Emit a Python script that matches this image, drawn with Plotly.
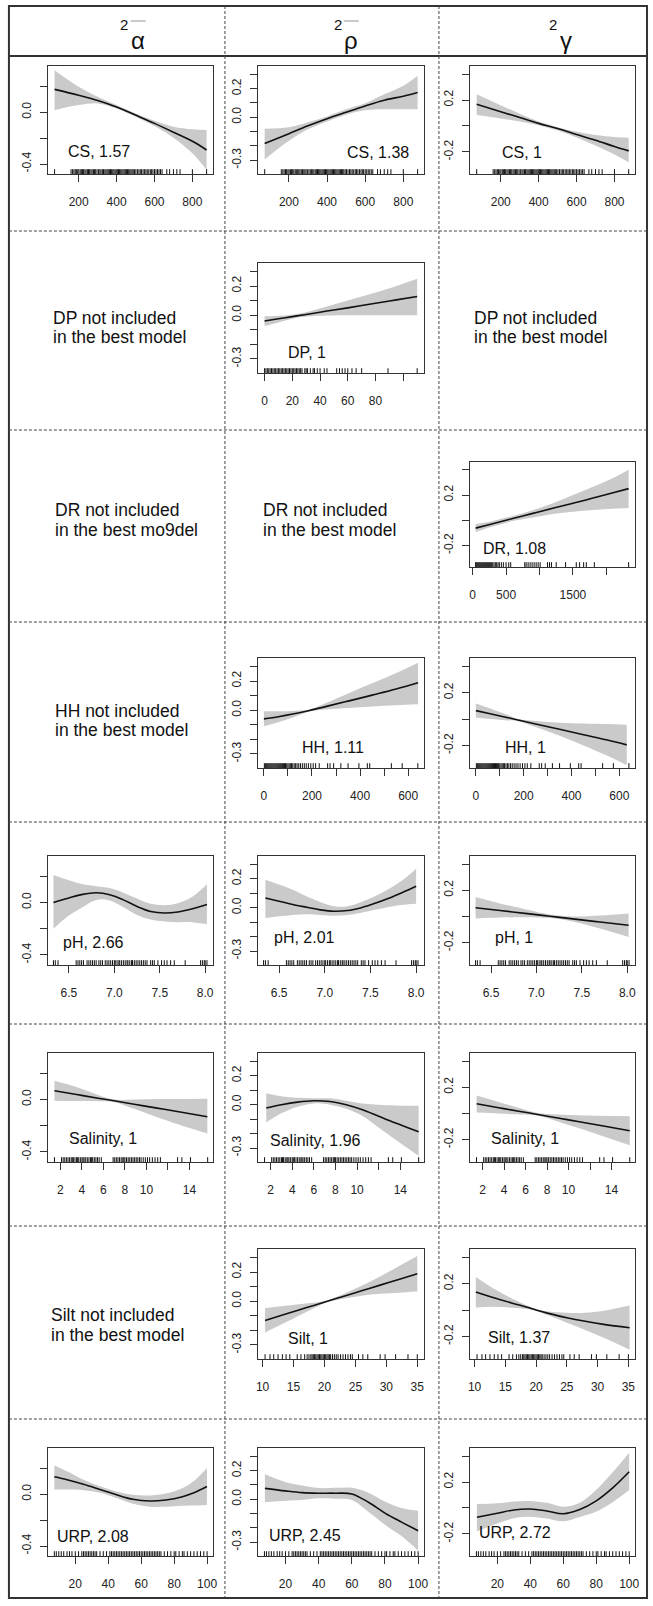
import plotly.graph_objects as go

W, H = 653, 1606
FONT = "Liberation Sans, Arial, sans-serif"

# ---------------- observation values (rug) ----------------
CS_OBS = [73, 160, 168, 175, 182, 188, 195, 201, 208, 214, 220, 226, 233, 239, 246, 252, 258, 265, 271,
          278, 284, 290, 297, 305, 312, 318, 325, 331, 338, 344, 350, 356, 362, 368, 374, 380, 386, 392,
          398, 404, 410, 416, 422, 428, 434, 440, 446, 452, 458, 464, 470, 476, 482, 488, 495, 502, 510,
          518, 525, 532, 540, 548, 555, 562, 570, 578, 585, 592, 600, 608, 616, 624, 632, 640, 665, 680,
          700, 718, 735, 800, 875]
DP_OBS = [0, 1, 2, 3, 4, 5, 6, 7, 8, 9, 10, 11, 12, 13, 14, 15, 16, 17, 18, 19, 20, 21, 22, 23, 24, 25,
          26, 27, 29, 30, 31, 33, 35, 36, 38, 40, 43, 45, 52, 54, 56, 58, 60, 63, 66, 70, 89, 110]
DR_OBS = [45, 55, 70, 85, 100, 115, 130, 145, 160, 175, 190, 205, 220, 235, 250, 265, 280, 300, 320, 340,
          360, 380, 400, 430, 460, 500, 540, 570, 780, 800, 830, 860, 890, 920, 950, 980, 1010, 1120,
          1150, 1180, 1250, 1390, 1550, 1600, 1660, 1700, 1820, 2333]
HH_OBS = [2, 6, 10, 14, 18, 22, 26, 30, 34, 38, 42, 46, 50, 54, 58, 62, 66, 70, 74, 78, 82, 86, 90, 95,
          100, 105, 110, 115, 120, 126, 132, 138, 145, 152, 160, 168, 176, 185, 195, 205, 215, 230, 265,
          275, 290, 320, 350, 395, 430, 440, 530, 575, 640]
PH_OBS = [6.33, 6.35, 6.38, 6.58, 6.6, 6.62, 6.64, 6.66, 6.7, 6.72, 6.74, 6.76, 6.78, 6.8, 6.83, 6.85,
          6.87, 6.9, 6.92, 6.94, 6.96, 6.98, 7.0, 7.01, 7.03, 7.05, 7.06, 7.08, 7.1, 7.12, 7.14, 7.15,
          7.17, 7.19, 7.2, 7.22, 7.24, 7.26, 7.28, 7.3, 7.32, 7.34, 7.36, 7.4, 7.42, 7.44, 7.48, 7.52,
          7.55, 7.58, 7.62, 7.66, 7.78, 7.95, 7.97, 7.99, 8.0, 8.02]
SAL_OBS = [1.44, 2.1, 2.25, 2.4, 2.55, 2.7, 2.85, 3.0, 3.1, 3.2, 3.35, 3.5, 3.6, 3.7, 3.85, 4.0, 4.1, 4.2,
           4.35, 4.5, 4.65, 4.8, 4.9, 5.0, 5.15, 5.3, 5.45, 5.6, 5.8, 6.9, 7.05, 7.2, 7.35, 7.5, 7.65,
           7.8, 7.9, 8.0, 8.15, 8.3, 8.45, 8.6, 8.75, 8.9, 9.05, 9.2, 9.35, 9.5, 9.7, 9.9, 10.1, 10.3,
           10.55, 10.8, 11.05, 11.3, 12.9, 13.3, 14.1, 15.7]
SILT_OBS = [10.4, 11.2, 11.8, 12.5, 13.2, 13.8, 14.4, 15.6, 16.2, 16.8, 17.2, 17.5, 17.8, 18.0, 18.2,
            18.4, 18.6, 18.8, 19.0, 19.2, 19.4, 19.6, 19.8, 20.0, 20.2, 20.4, 20.6, 20.8, 21.0, 21.3,
            21.6, 21.9, 22.2, 22.6, 23.0, 23.4, 23.8, 24.2, 24.5, 25.5, 26.2, 27.0, 29.0, 29.8, 31.5,
            33.5, 35.0]
URP_OBS = [7.3, 8.5, 10, 11.5, 13, 15, 16.5, 18, 20, 22, 24, 25, 26, 27, 28, 29, 30, 31, 32, 33, 35, 37,
           39, 41, 42, 43, 44, 45, 46, 47, 48, 49, 50, 51, 52, 53, 54, 55, 56, 57, 58, 59, 60, 61, 62, 63,
           64, 65, 66, 67, 68, 69, 70, 71, 72, 74, 76, 78, 80, 81, 83, 85, 86, 88, 90, 92, 94, 96, 98, 100]

# ---------------- smooth fits: x, fit, lower, upper ----------------
CS_X = [73, 200, 300, 400, 500, 600, 700, 800, 875]
CS_A_FIT = [0.175, 0.13, 0.09, 0.04, -0.023, -0.087, -0.155, -0.225, -0.292]
CS_A_HI = [0.323, 0.195, 0.118, 0.054, -0.01, -0.067, -0.113, -0.133, -0.138]
CS_A_LO = [0.015, 0.054, 0.067, 0.028, -0.036, -0.108, -0.197, -0.318, -0.446]
CS_R_FIT = [-0.184, -0.115, -0.06, -0.01, 0.035, 0.079, 0.119, 0.147, 0.173]
CS_R_HI = [-0.08, -0.07, -0.035, 0.005, 0.055, 0.097, 0.16, 0.22, 0.29]
CS_R_LO = [-0.295, -0.165, -0.085, -0.03, 0.018, 0.049, 0.055, 0.056, 0.056]
CS_G_FIT = [0.167, 0.11, 0.065, 0.02, -0.02, -0.065, -0.11, -0.158, -0.192]
CS_G_HI = [0.245, 0.16, 0.095, 0.035, -0.01, -0.045, -0.07, -0.085, -0.09]
CS_G_LO = [0.085, 0.058, 0.035, 0.005, -0.035, -0.088, -0.15, -0.22, -0.28]

DP_X = [0, 10, 20, 30, 45, 60, 80, 95, 110]
DP_R_FIT = [-0.04, -0.025, -0.01, 0.005, 0.028, 0.05, 0.082, 0.105, 0.128]
DP_R_HI = [-0.008, -0.004, 0.003, 0.02, 0.06, 0.1, 0.155, 0.2, 0.25]
DP_R_LO = [-0.075, -0.05, -0.024, -0.01, -0.003, -0.001, 0.0, 0.0, 0.0]

DR_X = [45, 300, 600, 900, 1200, 1500, 1800, 2100, 2333]
DR_G_FIT = [-0.062, -0.027, 0.014, 0.055, 0.096, 0.135, 0.176, 0.218, 0.251]
DR_G_HI = [-0.03, -0.005, 0.035, 0.08, 0.135, 0.2, 0.265, 0.335, 0.4]
DR_G_LO = [-0.093, -0.05, -0.006, 0.022, 0.05, 0.068, 0.082, 0.092, 0.097]

HH_R_X = [0, 60, 120, 190, 260, 350, 450, 550, 641]
HH_R_FIT = [-0.06, -0.045, -0.027, -0.002, 0.026, 0.062, 0.103, 0.145, 0.188]
HH_R_HI = [-0.007, -0.007, -0.005, 0.004, 0.05, 0.115, 0.185, 0.255, 0.326]
HH_R_LO = [-0.11, -0.083, -0.05, -0.009, 0.005, 0.015, 0.025, 0.033, 0.04]
HH_G_X = [0, 60, 120, 180, 250, 350, 450, 550, 631]
HH_G_FIT = [0.064, 0.04, 0.016, -0.009, -0.037, -0.077, -0.118, -0.158, -0.195]
HH_G_HI = [0.118, 0.08, 0.04, 0.0, -0.015, -0.028, -0.034, -0.038, -0.042]
HH_G_LO = [0.012, 0.0, -0.008, -0.018, -0.06, -0.126, -0.2, -0.278, -0.348]

PH_A_X = [6.33, 6.5, 6.65, 6.8, 6.95, 7.1, 7.25, 7.4, 7.55, 7.7, 7.85, 8.02]
PH_A_FIT = [0.0, 0.035, 0.062, 0.074, 0.06, 0.02, -0.03, -0.068, -0.08, -0.072, -0.05, -0.015]
PH_A_HI = [0.21, 0.17, 0.14, 0.125, 0.11, 0.075, 0.03, -0.01, -0.02, -0.005, 0.04, 0.14]
PH_A_LO = [-0.2, -0.1, -0.036, 0.02, 0.015, -0.036, -0.095, -0.13, -0.145, -0.15, -0.15, -0.165]
PH_R_X = [6.35, 6.5, 6.65, 6.8, 6.95, 7.1, 7.25, 7.4, 7.55, 7.7, 7.85, 8.0]
PH_R_FIT = [0.067, 0.045, 0.022, 0.003, -0.015, -0.025, -0.02, 0.0, 0.03, 0.065, 0.105, 0.148]
PH_R_HI = [0.194, 0.16, 0.125, 0.079, 0.039, 0.01, 0.01, 0.04, 0.08, 0.13, 0.19, 0.27]
PH_R_LO = [-0.072, -0.06, -0.05, -0.045, -0.05, -0.055, -0.05, -0.035, -0.015, 0.005, 0.02, 0.028]
PH_G_X = [6.33, 6.6, 6.9, 7.15, 7.4, 7.7, 8.015]
PH_G_FIT = [0.067, 0.046, 0.022, 0.002, -0.018, -0.042, -0.067]
PH_G_HI = [0.149, 0.1, 0.052, 0.015, 0.0, 0.008, 0.023]
PH_G_LO = [-0.015, -0.008, -0.006, -0.012, -0.038, -0.092, -0.156]

SAL_A_X = [1.44, 3.5, 5.5, 7, 9, 11, 13, 15.67]
SAL_A_FIT = [0.067, 0.038, 0.01, -0.01, -0.038, -0.066, -0.093, -0.131]
SAL_A_HI = [0.144, 0.095, 0.035, 0.0, 0.0, 0.003, 0.004, 0.005]
SAL_A_LO = [-0.01, -0.012, -0.013, -0.02, -0.075, -0.135, -0.19, -0.259]
SAL_R_X = [1.6, 3, 4.5, 6, 7.5, 9, 10.5, 12, 13.5, 15.7]
SAL_R_FIT = [-0.023, 0.0, 0.018, 0.027, 0.022, 0.0, -0.035, -0.08, -0.125, -0.188]
SAL_R_HI = [0.079, 0.058, 0.048, 0.045, 0.044, 0.028, 0.008, 0.0, -0.005, -0.007]
SAL_R_LO = [-0.123, -0.06, -0.014, 0.009, 0.0, -0.028, -0.078, -0.158, -0.24, -0.355]
SAL_G_X = [1.45, 3.5, 5.5, 7, 9, 11, 13, 15.7]
SAL_G_FIT = [0.074, 0.044, 0.016, -0.005, -0.034, -0.063, -0.092, -0.131]
SAL_G_HI = [0.138, 0.088, 0.04, 0.006, -0.008, -0.013, -0.017, -0.02]
SAL_G_LO = [0.008, 0.0, -0.008, -0.016, -0.06, -0.113, -0.167, -0.242]

SILT_R_X = [10.4, 14, 17, 20.2, 23, 26, 29, 32, 35]
SILT_R_FIT = [-0.132, -0.085, -0.046, -0.004, 0.032, 0.071, 0.11, 0.149, 0.188]
SILT_R_HI = [-0.049, -0.03, -0.016, 0.003, 0.048, 0.105, 0.17, 0.24, 0.31]
SILT_R_LO = [-0.215, -0.14, -0.076, -0.011, 0.016, 0.037, 0.05, 0.058, 0.066]
SILT_G_X = [10.2, 13, 16, 19, 20, 22, 25, 28, 31, 35.2]
SILT_G_FIT = [0.136, 0.095, 0.054, 0.015, 0.0, -0.025, -0.058, -0.085, -0.108, -0.133]
SILT_G_HI = [0.25, 0.165, 0.09, 0.025, 0.006, -0.01, -0.02, -0.02, -0.005, 0.035]
SILT_G_LO = [0.02, 0.025, 0.018, 0.005, -0.006, -0.04, -0.095, -0.15, -0.21, -0.3]

URP_A_X = [7.3, 15, 25, 35, 45, 55, 65, 75, 85, 92, 99.9]
URP_A_FIT = [0.133, 0.11, 0.075, 0.035, -0.005, -0.04, -0.053, -0.045, -0.02, 0.01, 0.058]
URP_A_HI = [0.223, 0.175, 0.11, 0.06, 0.02, -0.005, -0.01, 0.005, 0.045, 0.1, 0.2]
URP_A_LO = [0.035, 0.035, 0.03, 0.01, -0.03, -0.075, -0.097, -0.098, -0.09, -0.088, -0.085]
URP_X = [7.6, 20, 30, 40, 50, 60, 70, 80, 90, 100]
URP_R_FIT = [0.076, 0.058, 0.046, 0.042, 0.042, 0.037, -0.021, -0.097, -0.16, -0.22]
URP_R_HI = [0.174, 0.12, 0.095, 0.078, 0.08, 0.08, 0.046, -0.016, -0.062, -0.081]
URP_R_LO = [-0.021, -0.01, -0.005, 0.006, 0.004, -0.006, -0.088, -0.178, -0.258, -0.36]
URP_G_FIT = [-0.072, -0.041, -0.015, -0.008, -0.023, -0.045, -0.012, 0.055, 0.155, 0.279]
URP_G_HI = [0.031, 0.036, 0.049, 0.054, 0.04, 0.01, 0.04, 0.14, 0.275, 0.425]
URP_G_LO = [-0.18, -0.12, -0.079, -0.068, -0.082, -0.103, -0.07, -0.028, 0.045, 0.138]

# ---------------- axis ticks per variable ----------------
X_TICKS = {
    "CS": ([200, 400, 600, 800], ["200", "400", "600", "800"]),
    "DP": ([0, 20, 40, 60, 80, 100], ["0", "20", "40", "60", "80", ""]),
    "DR": ([0, 500, 1000, 1500, 2000], ["0", "500", "", "1500", ""]),
    "HH": ([0, 100, 200, 300, 400, 500, 600], ["0", "", "200", "", "400", "", "600"]),
    "pH": ([6.5, 7.0, 7.5, 8.0], ["6.5", "7.0", "7.5", "8.0"]),
    "Salinity": ([2, 4, 6, 8, 10, 12, 14], ["2", "4", "6", "8", "10", "", "14"]),
    "Silt": ([10, 15, 20, 25, 30, 35], ["10", "15", "20", "25", "30", "35"]),
    "URP": ([20, 40, 60, 80, 100], ["20", "40", "60", "80", "100"]),
}
Y_TICKS = {
    1: ([-0.4, -0.2, 0.0, 0.2], ["-0.4", "", "0.0", ""]),
    2: ([-0.3, -0.2, -0.1, 0.0, 0.1, 0.2, 0.3], ["-0.3", "", "", "0.0", "", "0.2", ""]),
    3: ([-0.2, 0.0, 0.2, 0.4], ["-0.2", "", "0.2", ""]),
}
HEADERS = ["α", "ρ", "γ"]

# ---------------- layout geometry (pixels) ----------------
X_RANGE = {"CS": [36, 909], "DP": [-5, 115], "DR": [-44, 2430], "HH": [-26, 666],
           "pH": [6.265, 8.087], "Salinity": [0.8, 16.2], "Silt": [9.2, 36.1], "URP": [3.2, 103.6]}
Y_RANGE = {1: [-0.477, 0.355], 2: [-0.397, 0.358], 3: [-0.37, 0.462]}
COL_X = {1: (46, 213), 2: (258, 426), 3: (472, 639)}
ROW_Y = {"CS": (66, 174), "DP": (263, 373), "DR": (462, 567), "HH": (658, 768), "pH": (856, 965),
         "Salinity": (1053, 1162), "Silt": (1249, 1359), "URP": (1448, 1556)}
OBS = {"CS": CS_OBS, "DP": DP_OBS, "DR": DR_OBS, "HH": HH_OBS, "pH": PH_OBS,
       "Salinity": SAL_OBS, "Silt": SILT_OBS, "URP": URP_OBS}

PANELS = [
    # var, col, x, fit, lo, hi, label, (label_x, label_y)
    ("CS", 1, CS_X, CS_A_FIT, CS_A_LO, CS_A_HI, "CS, 1.57", (65, 151)),
    ("CS", 2, CS_X, CS_R_FIT, CS_R_LO, CS_R_HI, "CS, 1.38", (346, 152)),
    ("CS", 3, CS_X, CS_G_FIT, CS_G_LO, CS_G_HI, "CS, 1", (503, 152)),
    ("DP", 2, DP_X, DP_R_FIT, DP_R_LO, DP_R_HI, "DP, 1", (287, 352)),
    ("DR", 3, DR_X, DR_G_FIT, DR_G_LO, DR_G_HI, "DR, 1.08", (483, 548)),
    ("HH", 2, HH_R_X, HH_R_FIT, HH_R_LO, HH_R_HI, "HH, 1.11", (301, 747)),
    ("HH", 3, HH_G_X, HH_G_FIT, HH_G_LO, HH_G_HI, "HH, 1", (506, 747)),
    ("pH", 1, PH_A_X, PH_A_FIT, PH_A_LO, PH_A_HI, "pH, 2.66", (60, 942)),
    ("pH", 2, PH_R_X, PH_R_FIT, PH_R_LO, PH_R_HI, "pH, 2.01", (273, 937)),
    ("pH", 3, PH_G_X, PH_G_FIT, PH_G_LO, PH_G_HI, "pH, 1", (496, 937)),
    ("Salinity", 1, SAL_A_X, SAL_A_FIT, SAL_A_LO, SAL_A_HI, "Salinity, 1", (66, 1138)),
    ("Salinity", 2, SAL_R_X, SAL_R_FIT, SAL_R_LO, SAL_R_HI, "Salinity, 1.96", (268, 1140)),
    ("Salinity", 3, SAL_G_X, SAL_G_FIT, SAL_G_LO, SAL_G_HI, "Salinity, 1", (492, 1138)),
    ("Silt", 2, SILT_R_X, SILT_R_FIT, SILT_R_LO, SILT_R_HI, "Silt, 1", (287, 1338)),
    ("Silt", 3, SILT_G_X, SILT_G_FIT, SILT_G_LO, SILT_G_HI, "Silt, 1.37", (488, 1337)),
    ("URP", 1, URP_A_X, URP_A_FIT, URP_A_LO, URP_A_HI, "URP, 2.08", (53, 1536)),
    ("URP", 2, URP_X, URP_R_FIT, URP_R_LO, URP_R_HI, "URP, 2.45", (267, 1535)),
    ("URP", 3, URP_X, URP_G_FIT, URP_G_LO, URP_G_HI, "URP, 2.72", (479, 1532)),
]

NOT_INCLUDED = [
    ("DP not included", "in the best model", 49, 318, 337),
    ("DP not included", "in the best model", 474, 318, 337),
    ("DR not included", "in the best mo9del", 51, 510, 530),
    ("DR not included", "in the best model", 261, 510, 530),
    ("HH not included", "in the best model", 51, 711, 730),
    ("Silt not included", "in the best model", 47, 1315, 1335),
]

AXC = "#333333"


def px(x):
    return x / W


def py(y):
    return 1 - y / H


fig = go.Figure()
layout_axes = {}
annotations = []

for i, (var, col, xs, fit, lo, hi, label, (lx, ly)) in enumerate(PANELS, start=1):
    xa = "x" if i == 1 else f"x{i}"
    ya = "y" if i == 1 else f"y{i}"
    x0, x1 = COL_X[col]
    y0, y1 = ROW_Y[var]
    yr = Y_RANGE[col]
    fig.add_trace(go.Scatter(x=xs, y=lo, mode="lines", line=dict(width=0, shape="spline"),
                             xaxis=xa, yaxis=ya, showlegend=False, hoverinfo="skip"))
    fig.add_trace(go.Scatter(x=xs, y=hi, mode="lines", line=dict(width=0, shape="spline"),
                             fill="tonexty", fillcolor="#cacaca",
                             xaxis=xa, yaxis=ya, showlegend=False, hoverinfo="skip"))
    fig.add_trace(go.Scatter(x=xs, y=fit, mode="lines",
                             line=dict(color="#111111", width=1.6, shape="spline"),
                             xaxis=xa, yaxis=ya, showlegend=False))
    obs = OBS[var]
    off = (yr[1] - yr[0]) / (y1 - y0) * 2.0
    fig.add_trace(go.Scatter(x=obs, y=[yr[0] + off] * len(obs), mode="markers",
                             marker=dict(symbol="line-ns", size=4, line=dict(width=1, color="#111111")),
                             cliponaxis=False, xaxis=xa, yaxis=ya, showlegend=False, hoverinfo="skip"))
    xt = X_TICKS[var]
    yt = Y_TICKS[col]
    common = dict(showgrid=False, zeroline=False, showline=True, mirror=True, linecolor=AXC,
                  linewidth=1, ticks="outside", ticklen=7, tickwidth=1, tickcolor=AXC,
                  tickfont=dict(family=FONT, size=12, color="#222222"))
    layout_axes["xaxis" if i == 1 else f"xaxis{i}"] = dict(
        domain=[px(x0), px(x1)], range=X_RANGE[var], anchor=ya,
        tickmode="array", tickvals=xt[0], ticktext=xt[1], ticklabelstandoff=10, **common)
    layout_axes["yaxis" if i == 1 else f"yaxis{i}"] = dict(
        domain=[py(y1), py(y0)], range=yr, anchor=xa, tickangle=-90,
        tickmode="array", tickvals=yt[0], ticktext=yt[1], ticklabelstandoff=4, **common)
    annotations.append(dict(text=label, x=px(lx), y=py(ly), xref="paper", yref="paper",
                            xanchor="left", yanchor="middle", showarrow=False,
                            font=dict(family=FONT, size=16, color="#111111")))

for l1, l2, tx, ty1, ty2 in NOT_INCLUDED:
    for t, ty in ((l1, ty1), (l2, ty2)):
        annotations.append(dict(text=t, x=px(tx), y=py(ty), xref="paper", yref="paper",
                                xanchor="left", yanchor="middle", showarrow=False,
                                font=dict(family=FONT, size=17.5, color="#111111")))

# header: superscript "2" followed by the Greek letter
HEAD_POS = [(123, 137), (339.5, 352), (556, 569)]
for g, (sx, gx) in zip(HEADERS, HEAD_POS):
    annotations.append(dict(text="2", x=px(sx), y=py(25), xref="paper", yref="paper",
                            xanchor="center", yanchor="middle", showarrow=False,
                            font=dict(family=FONT, size=15, color="#111111")))
    annotations.append(dict(text=g, x=px(gx), y=py(41), xref="paper", yref="paper",
                            xanchor="center", yanchor="middle", showarrow=False,
                            font=dict(family=FONT, size=24, color="#111111")))

shapes = []
# overlines in header
for xa0, xa1 in ((130, 145), (345, 360)):
    shapes.append(dict(type="line", xref="paper", yref="paper", x0=px(xa0), x1=px(xa1),
                       y0=py(21), y1=py(21), line=dict(color="#aaaaaa", width=1.3)))
# table frame
LEFT, RIGHT, TOP, BOTTOM = 7, 651, 6, 1598
shapes.append(dict(type="rect", xref="paper", yref="paper", x0=px(LEFT), x1=px(RIGHT),
                   y0=py(BOTTOM), y1=py(TOP), line=dict(color="#333333", width=2)))
shapes.append(dict(type="line", xref="paper", yref="paper", x0=px(LEFT), x1=px(RIGHT),
                   y0=py(56), y1=py(56), line=dict(color="#333333", width=2)))
for cx in (225, 441):
    shapes.append(dict(type="line", xref="paper", yref="paper", x0=px(cx), x1=px(cx),
                       y0=py(TOP), y1=py(BOTTOM), line=dict(color="#444444", width=1, dash="3px,2px")))
for ry in (231, 430, 622, 822, 1024, 1226, 1419):
    shapes.append(dict(type="line", xref="paper", yref="paper", x0=px(LEFT), x1=px(RIGHT),
                       y0=py(ry), y1=py(ry), line=dict(color="#444444", width=1, dash="3px,2px")))

fig.update_layout(width=W, height=H, margin=dict(l=0, r=0, t=0, b=0),
                  paper_bgcolor="white", plot_bgcolor="white", showlegend=False,
                  annotations=annotations, shapes=shapes, font=dict(family=FONT), **layout_axes)

fig.write_html("out.html", config={"displayModeBar": False},
               post_script="document.body.style.margin='0px';document.body.style.overflow='hidden';")
